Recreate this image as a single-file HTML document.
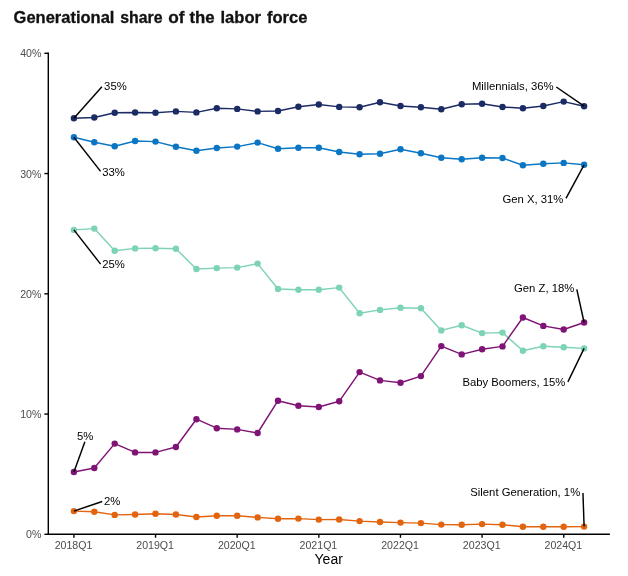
<!DOCTYPE html>
<html><head><meta charset="utf-8"><title>Generational share of the labor force</title>
<style>
html,body{margin:0;padding:0;background:#fff;}
body{width:628px;height:576px;overflow:hidden;font-family:"Liberation Sans",sans-serif;}
svg{display:block;will-change:transform;}
text{font-family:"Liberation Sans",sans-serif;}
.ttl{font-size:16.4px;font-weight:bold;fill:#111;stroke:#111;stroke-width:0.3px;}
.ax{font-size:10.6px;fill:#4d4d4d;}
.axt{font-size:14px;fill:#000;}
.lb{font-size:11.3px;fill:#000;}
</style></head><body>
<svg width="628" height="576" viewBox="0 0 628 576">
<rect width="628" height="576" fill="#fff"/>
<text x="13.60" y="22.5" class="ttl" textLength="100.80" lengthAdjust="spacingAndGlyphs">Generational</text>
<text x="120.30" y="22.5" class="ttl" textLength="42.30" lengthAdjust="spacingAndGlyphs">share</text>
<text x="168.30" y="22.5" class="ttl" textLength="16.30" lengthAdjust="spacingAndGlyphs">of</text>
<text x="189.50" y="22.5" class="ttl" textLength="25.20" lengthAdjust="spacingAndGlyphs">the</text>
<text x="220.50" y="22.5" class="ttl" textLength="40.50" lengthAdjust="spacingAndGlyphs">labor</text>
<text x="266.90" y="22.5" class="ttl" textLength="40.50" lengthAdjust="spacingAndGlyphs">force</text>

<polyline points="73.9,118.3 94.3,117.5 114.7,112.8 135.1,112.5 155.5,112.8 175.9,111.4 196.4,112.4 216.8,108.3 237.2,108.9 257.6,111.4 278.0,111.0 298.4,106.7 318.8,104.5 339.2,106.9 359.6,107.2 380.0,102.3 400.5,106.0 420.9,107.2 441.3,109.2 461.7,104.3 482.1,103.8 502.5,107.0 522.9,108.2 543.3,106.0 563.7,101.6 584.1,106.2" fill="none" stroke="#1B2B64" stroke-width="1.45" stroke-linejoin="round"/>
<polyline points="73.9,137.2 94.3,142.3 114.7,146.3 135.1,141.0 155.5,141.6 175.9,146.7 196.4,150.7 216.8,148.0 237.2,146.6 257.6,142.6 278.0,148.8 298.4,147.7 318.8,147.8 339.2,152.0 359.6,154.2 380.0,153.8 400.5,149.3 420.9,153.3 441.3,157.8 461.7,159.3 482.1,157.8 502.5,158.0 522.9,165.3 543.3,163.8 563.7,162.9 584.1,164.8" fill="none" stroke="#0A76C4" stroke-width="1.45" stroke-linejoin="round"/>
<polyline points="73.9,229.9 94.3,228.6 114.7,250.7 135.1,248.4 155.5,248.2 175.9,248.7 196.4,269.0 216.8,268.1 237.2,267.6 257.6,263.6 278.0,289.0 298.4,289.7 318.8,289.7 339.2,287.6 359.6,313.2 380.0,309.9 400.5,307.7 420.9,308.3 441.3,330.4 461.7,325.2 482.1,333.1 502.5,332.6 522.9,350.7 543.3,346.2 563.7,347.3 584.1,348.4" fill="none" stroke="#7DD3B5" stroke-width="1.45" stroke-linejoin="round"/>
<polyline points="73.9,472.0 94.3,468.0 114.7,443.6 135.1,452.4 155.5,452.4 175.9,447.0 196.4,419.2 216.8,428.2 237.2,429.4 257.6,433.0 278.0,400.7 298.4,405.8 318.8,407.0 339.2,401.3 359.6,372.1 380.0,380.4 400.5,382.8 420.9,376.1 441.3,346.1 461.7,354.4 482.1,349.3 502.5,346.4 522.9,317.5 543.3,325.9 563.7,329.5 584.1,322.5" fill="none" stroke="#7F1476" stroke-width="1.45" stroke-linejoin="round"/>
<polyline points="73.9,511.1 94.3,511.7 114.7,514.9 135.1,514.5 155.5,513.8 175.9,514.5 196.4,517.0 216.8,515.7 237.2,515.7 257.6,517.4 278.0,518.8 298.4,518.6 318.8,519.6 339.2,519.5 359.6,521.1 380.0,522.0 400.5,522.6 420.9,523.1 441.3,524.6 461.7,524.8 482.1,524.1 502.5,524.7 522.9,526.7 543.3,526.7 563.7,526.7 584.1,526.6" fill="none" stroke="#E3640F" stroke-width="1.45" stroke-linejoin="round"/>
<circle cx="73.9" cy="118.3" r="3.2" fill="#1B2B64"/>
<circle cx="94.3" cy="117.5" r="3.2" fill="#1B2B64"/>
<circle cx="114.7" cy="112.8" r="3.2" fill="#1B2B64"/>
<circle cx="135.1" cy="112.5" r="3.2" fill="#1B2B64"/>
<circle cx="155.5" cy="112.8" r="3.2" fill="#1B2B64"/>
<circle cx="175.9" cy="111.4" r="3.2" fill="#1B2B64"/>
<circle cx="196.4" cy="112.4" r="3.2" fill="#1B2B64"/>
<circle cx="216.8" cy="108.3" r="3.2" fill="#1B2B64"/>
<circle cx="237.2" cy="108.9" r="3.2" fill="#1B2B64"/>
<circle cx="257.6" cy="111.4" r="3.2" fill="#1B2B64"/>
<circle cx="278.0" cy="111.0" r="3.2" fill="#1B2B64"/>
<circle cx="298.4" cy="106.7" r="3.2" fill="#1B2B64"/>
<circle cx="318.8" cy="104.5" r="3.2" fill="#1B2B64"/>
<circle cx="339.2" cy="106.9" r="3.2" fill="#1B2B64"/>
<circle cx="359.6" cy="107.2" r="3.2" fill="#1B2B64"/>
<circle cx="380.0" cy="102.3" r="3.2" fill="#1B2B64"/>
<circle cx="400.5" cy="106.0" r="3.2" fill="#1B2B64"/>
<circle cx="420.9" cy="107.2" r="3.2" fill="#1B2B64"/>
<circle cx="441.3" cy="109.2" r="3.2" fill="#1B2B64"/>
<circle cx="461.7" cy="104.3" r="3.2" fill="#1B2B64"/>
<circle cx="482.1" cy="103.8" r="3.2" fill="#1B2B64"/>
<circle cx="502.5" cy="107.0" r="3.2" fill="#1B2B64"/>
<circle cx="522.9" cy="108.2" r="3.2" fill="#1B2B64"/>
<circle cx="543.3" cy="106.0" r="3.2" fill="#1B2B64"/>
<circle cx="563.7" cy="101.6" r="3.2" fill="#1B2B64"/>
<circle cx="584.1" cy="106.2" r="3.2" fill="#1B2B64"/>
<circle cx="73.9" cy="137.2" r="3.2" fill="#0A76C4"/>
<circle cx="94.3" cy="142.3" r="3.2" fill="#0A76C4"/>
<circle cx="114.7" cy="146.3" r="3.2" fill="#0A76C4"/>
<circle cx="135.1" cy="141.0" r="3.2" fill="#0A76C4"/>
<circle cx="155.5" cy="141.6" r="3.2" fill="#0A76C4"/>
<circle cx="175.9" cy="146.7" r="3.2" fill="#0A76C4"/>
<circle cx="196.4" cy="150.7" r="3.2" fill="#0A76C4"/>
<circle cx="216.8" cy="148.0" r="3.2" fill="#0A76C4"/>
<circle cx="237.2" cy="146.6" r="3.2" fill="#0A76C4"/>
<circle cx="257.6" cy="142.6" r="3.2" fill="#0A76C4"/>
<circle cx="278.0" cy="148.8" r="3.2" fill="#0A76C4"/>
<circle cx="298.4" cy="147.7" r="3.2" fill="#0A76C4"/>
<circle cx="318.8" cy="147.8" r="3.2" fill="#0A76C4"/>
<circle cx="339.2" cy="152.0" r="3.2" fill="#0A76C4"/>
<circle cx="359.6" cy="154.2" r="3.2" fill="#0A76C4"/>
<circle cx="380.0" cy="153.8" r="3.2" fill="#0A76C4"/>
<circle cx="400.5" cy="149.3" r="3.2" fill="#0A76C4"/>
<circle cx="420.9" cy="153.3" r="3.2" fill="#0A76C4"/>
<circle cx="441.3" cy="157.8" r="3.2" fill="#0A76C4"/>
<circle cx="461.7" cy="159.3" r="3.2" fill="#0A76C4"/>
<circle cx="482.1" cy="157.8" r="3.2" fill="#0A76C4"/>
<circle cx="502.5" cy="158.0" r="3.2" fill="#0A76C4"/>
<circle cx="522.9" cy="165.3" r="3.2" fill="#0A76C4"/>
<circle cx="543.3" cy="163.8" r="3.2" fill="#0A76C4"/>
<circle cx="563.7" cy="162.9" r="3.2" fill="#0A76C4"/>
<circle cx="584.1" cy="164.8" r="3.2" fill="#0A76C4"/>
<circle cx="73.9" cy="229.9" r="3.2" fill="#7DD3B5"/>
<circle cx="94.3" cy="228.6" r="3.2" fill="#7DD3B5"/>
<circle cx="114.7" cy="250.7" r="3.2" fill="#7DD3B5"/>
<circle cx="135.1" cy="248.4" r="3.2" fill="#7DD3B5"/>
<circle cx="155.5" cy="248.2" r="3.2" fill="#7DD3B5"/>
<circle cx="175.9" cy="248.7" r="3.2" fill="#7DD3B5"/>
<circle cx="196.4" cy="269.0" r="3.2" fill="#7DD3B5"/>
<circle cx="216.8" cy="268.1" r="3.2" fill="#7DD3B5"/>
<circle cx="237.2" cy="267.6" r="3.2" fill="#7DD3B5"/>
<circle cx="257.6" cy="263.6" r="3.2" fill="#7DD3B5"/>
<circle cx="278.0" cy="289.0" r="3.2" fill="#7DD3B5"/>
<circle cx="298.4" cy="289.7" r="3.2" fill="#7DD3B5"/>
<circle cx="318.8" cy="289.7" r="3.2" fill="#7DD3B5"/>
<circle cx="339.2" cy="287.6" r="3.2" fill="#7DD3B5"/>
<circle cx="359.6" cy="313.2" r="3.2" fill="#7DD3B5"/>
<circle cx="380.0" cy="309.9" r="3.2" fill="#7DD3B5"/>
<circle cx="400.5" cy="307.7" r="3.2" fill="#7DD3B5"/>
<circle cx="420.9" cy="308.3" r="3.2" fill="#7DD3B5"/>
<circle cx="441.3" cy="330.4" r="3.2" fill="#7DD3B5"/>
<circle cx="461.7" cy="325.2" r="3.2" fill="#7DD3B5"/>
<circle cx="482.1" cy="333.1" r="3.2" fill="#7DD3B5"/>
<circle cx="502.5" cy="332.6" r="3.2" fill="#7DD3B5"/>
<circle cx="522.9" cy="350.7" r="3.2" fill="#7DD3B5"/>
<circle cx="543.3" cy="346.2" r="3.2" fill="#7DD3B5"/>
<circle cx="563.7" cy="347.3" r="3.2" fill="#7DD3B5"/>
<circle cx="584.1" cy="348.4" r="3.2" fill="#7DD3B5"/>
<circle cx="73.9" cy="472.0" r="3.2" fill="#7F1476"/>
<circle cx="94.3" cy="468.0" r="3.2" fill="#7F1476"/>
<circle cx="114.7" cy="443.6" r="3.2" fill="#7F1476"/>
<circle cx="135.1" cy="452.4" r="3.2" fill="#7F1476"/>
<circle cx="155.5" cy="452.4" r="3.2" fill="#7F1476"/>
<circle cx="175.9" cy="447.0" r="3.2" fill="#7F1476"/>
<circle cx="196.4" cy="419.2" r="3.2" fill="#7F1476"/>
<circle cx="216.8" cy="428.2" r="3.2" fill="#7F1476"/>
<circle cx="237.2" cy="429.4" r="3.2" fill="#7F1476"/>
<circle cx="257.6" cy="433.0" r="3.2" fill="#7F1476"/>
<circle cx="278.0" cy="400.7" r="3.2" fill="#7F1476"/>
<circle cx="298.4" cy="405.8" r="3.2" fill="#7F1476"/>
<circle cx="318.8" cy="407.0" r="3.2" fill="#7F1476"/>
<circle cx="339.2" cy="401.3" r="3.2" fill="#7F1476"/>
<circle cx="359.6" cy="372.1" r="3.2" fill="#7F1476"/>
<circle cx="380.0" cy="380.4" r="3.2" fill="#7F1476"/>
<circle cx="400.5" cy="382.8" r="3.2" fill="#7F1476"/>
<circle cx="420.9" cy="376.1" r="3.2" fill="#7F1476"/>
<circle cx="441.3" cy="346.1" r="3.2" fill="#7F1476"/>
<circle cx="461.7" cy="354.4" r="3.2" fill="#7F1476"/>
<circle cx="482.1" cy="349.3" r="3.2" fill="#7F1476"/>
<circle cx="502.5" cy="346.4" r="3.2" fill="#7F1476"/>
<circle cx="522.9" cy="317.5" r="3.2" fill="#7F1476"/>
<circle cx="543.3" cy="325.9" r="3.2" fill="#7F1476"/>
<circle cx="563.7" cy="329.5" r="3.2" fill="#7F1476"/>
<circle cx="584.1" cy="322.5" r="3.2" fill="#7F1476"/>
<circle cx="73.9" cy="511.1" r="3.2" fill="#E3640F"/>
<circle cx="94.3" cy="511.7" r="3.2" fill="#E3640F"/>
<circle cx="114.7" cy="514.9" r="3.2" fill="#E3640F"/>
<circle cx="135.1" cy="514.5" r="3.2" fill="#E3640F"/>
<circle cx="155.5" cy="513.8" r="3.2" fill="#E3640F"/>
<circle cx="175.9" cy="514.5" r="3.2" fill="#E3640F"/>
<circle cx="196.4" cy="517.0" r="3.2" fill="#E3640F"/>
<circle cx="216.8" cy="515.7" r="3.2" fill="#E3640F"/>
<circle cx="237.2" cy="515.7" r="3.2" fill="#E3640F"/>
<circle cx="257.6" cy="517.4" r="3.2" fill="#E3640F"/>
<circle cx="278.0" cy="518.8" r="3.2" fill="#E3640F"/>
<circle cx="298.4" cy="518.6" r="3.2" fill="#E3640F"/>
<circle cx="318.8" cy="519.6" r="3.2" fill="#E3640F"/>
<circle cx="339.2" cy="519.5" r="3.2" fill="#E3640F"/>
<circle cx="359.6" cy="521.1" r="3.2" fill="#E3640F"/>
<circle cx="380.0" cy="522.0" r="3.2" fill="#E3640F"/>
<circle cx="400.5" cy="522.6" r="3.2" fill="#E3640F"/>
<circle cx="420.9" cy="523.1" r="3.2" fill="#E3640F"/>
<circle cx="441.3" cy="524.6" r="3.2" fill="#E3640F"/>
<circle cx="461.7" cy="524.8" r="3.2" fill="#E3640F"/>
<circle cx="482.1" cy="524.1" r="3.2" fill="#E3640F"/>
<circle cx="502.5" cy="524.7" r="3.2" fill="#E3640F"/>
<circle cx="522.9" cy="526.7" r="3.2" fill="#E3640F"/>
<circle cx="543.3" cy="526.7" r="3.2" fill="#E3640F"/>
<circle cx="563.7" cy="526.7" r="3.2" fill="#E3640F"/>
<circle cx="584.1" cy="526.6" r="3.2" fill="#E3640F"/>
<line x1="48.3" y1="52.6" x2="48.3" y2="535.0" stroke="#000" stroke-width="1.4"/>
<line x1="47.6" y1="534.3" x2="609.9" y2="534.3" stroke="#000" stroke-width="1.4"/>
<line x1="44.4" y1="534.30" x2="48.3" y2="534.30" stroke="#000" stroke-width="1.4"/>
<text x="41.4" y="538.40" text-anchor="end" class="ax">0%</text>
<line x1="44.4" y1="414.05" x2="48.3" y2="414.05" stroke="#000" stroke-width="1.4"/>
<text x="41.4" y="418.15" text-anchor="end" class="ax">10%</text>
<line x1="44.4" y1="293.80" x2="48.3" y2="293.80" stroke="#000" stroke-width="1.4"/>
<text x="41.4" y="297.90" text-anchor="end" class="ax">20%</text>
<line x1="44.4" y1="173.55" x2="48.3" y2="173.55" stroke="#000" stroke-width="1.4"/>
<text x="41.4" y="177.65" text-anchor="end" class="ax">30%</text>
<line x1="44.4" y1="53.30" x2="48.3" y2="53.30" stroke="#000" stroke-width="1.4"/>
<text x="41.4" y="57.40" text-anchor="end" class="ax">40%</text>
<line x1="73.90" y1="534.3" x2="73.90" y2="537.8" stroke="#000" stroke-width="1.4"/>
<text x="73.50" y="549.05" text-anchor="middle" class="ax">2018Q1</text>
<line x1="155.54" y1="534.3" x2="155.54" y2="537.8" stroke="#000" stroke-width="1.4"/>
<text x="155.14" y="549.05" text-anchor="middle" class="ax">2019Q1</text>
<line x1="237.18" y1="534.3" x2="237.18" y2="537.8" stroke="#000" stroke-width="1.4"/>
<text x="236.78" y="549.05" text-anchor="middle" class="ax">2020Q1</text>
<line x1="318.82" y1="534.3" x2="318.82" y2="537.8" stroke="#000" stroke-width="1.4"/>
<text x="318.42" y="549.05" text-anchor="middle" class="ax">2021Q1</text>
<line x1="400.46" y1="534.3" x2="400.46" y2="537.8" stroke="#000" stroke-width="1.4"/>
<text x="400.06" y="549.05" text-anchor="middle" class="ax">2022Q1</text>
<line x1="482.10" y1="534.3" x2="482.10" y2="537.8" stroke="#000" stroke-width="1.4"/>
<text x="481.70" y="549.05" text-anchor="middle" class="ax">2023Q1</text>
<line x1="563.74" y1="534.3" x2="563.74" y2="537.8" stroke="#000" stroke-width="1.4"/>
<text x="563.34" y="549.05" text-anchor="middle" class="ax">2024Q1</text>
<text x="328.7" y="563.8" text-anchor="middle" class="axt">Year</text>
<line x1="73.9" y1="118.3" x2="101.9" y2="86.7" stroke="#000" stroke-width="1.45"/>
<text x="104.1" y="90.2" text-anchor="start" class="lb">35%</text>
<line x1="73.9" y1="137.2" x2="100.6" y2="171.4" stroke="#000" stroke-width="1.45"/>
<text x="102.3" y="175.5" text-anchor="start" class="lb">33%</text>
<line x1="73.9" y1="229.9" x2="100.6" y2="264.1" stroke="#000" stroke-width="1.45"/>
<text x="102.3" y="268.1" text-anchor="start" class="lb">25%</text>
<line x1="73.9" y1="472.0" x2="84.9" y2="441.7" stroke="#000" stroke-width="1.45"/>
<text x="76.9" y="439.9" text-anchor="start" class="lb">5%</text>
<line x1="73.9" y1="511.1" x2="102.2" y2="501.5" stroke="#000" stroke-width="1.45"/>
<text x="104.0" y="505.3" text-anchor="start" class="lb">2%</text>
<line x1="584.1" y1="106.2" x2="556.3" y2="87.0" stroke="#000" stroke-width="1.45"/>
<text x="553.6" y="90.2" text-anchor="end" class="lb">Millennials, 36%</text>
<line x1="584.1" y1="164.8" x2="566.0" y2="198.3" stroke="#000" stroke-width="1.45"/>
<text x="563.4" y="203.0" text-anchor="end" class="lb">Gen X, 31%</text>
<line x1="584.1" y1="322.5" x2="576.8" y2="289.4" stroke="#000" stroke-width="1.45"/>
<text x="574.3" y="292.3" text-anchor="end" class="lb">Gen Z, 18%</text>
<line x1="584.1" y1="348.4" x2="567.9" y2="381.9" stroke="#000" stroke-width="1.45"/>
<text x="565.4" y="386.4" text-anchor="end" class="lb">Baby Boomers, 15%</text>
<line x1="584.1" y1="526.6" x2="582.95" y2="493.0" stroke="#000" stroke-width="1.45"/>
<text x="580.2" y="496.4" text-anchor="end" class="lb">Silent Generation, 1%</text>
</svg>
</body></html>
